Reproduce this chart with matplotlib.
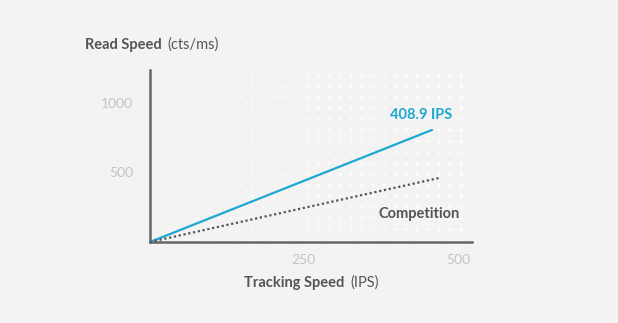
import numpy as np
import matplotlib
matplotlib.use("Agg")
import matplotlib.pyplot as plt

# data
series_names = ["408.9 IPS", "Competition"]
x_vals = [0, 458]
logitech_y = [0, 806]
comp_x = [0, 469]
comp_y = [0, 460]
x_ticks = [250, 500]
y_ticks = [500, 1000]

BG = "#f3f3f3"
BLUE = "#1ea7d1"
DARK = "#555555"
LIGHT = "#c4c4c4"
FONT = "Lato"

fig = plt.figure(figsize=(6.18, 3.23), dpi=100, facecolor=BG)
ax = fig.add_axes([150/618, 1-242/323, 322/618, 172/323])
ax.set_facecolor(BG)
ax.set_xlim(0, 523)
ax.set_ylim(0, 1237)

# decorative dot pattern
gx, gy = np.meshgrid(np.arange(0.01, 1.0, 11/322), np.arange(0.01, 1.0, 11/172))
alpha = np.clip(0.35 + 0.65*gx.ravel(), 0, 1)
cols = np.zeros((gx.size, 4)); cols[:, :3] = 1.0; cols[:, 3] = alpha
ax.scatter(gx.ravel(), gy.ravel(), s=5, c=cols, transform=ax.transAxes, linewidths=0, zorder=0)

ax.plot(x_vals, logitech_y, color=BLUE, lw=1.6, solid_capstyle="round", zorder=3)
ax.plot(comp_x, comp_y, color=DARK, lw=1.6, linestyle=(0, (1, 1.2)), zorder=3)

for s in ["top", "right"]:
    ax.spines[s].set_visible(False)
for s in ["left", "bottom"]:
    ax.spines[s].set_color("#666666")
    ax.spines[s].set_linewidth(1.8)
ax.set_xticks(x_ticks)
ax.set_yticks(y_ticks)
ax.tick_params(length=0, colors=LIGHT, labelsize=10)
ax.tick_params(axis="x", pad=9)
ax.tick_params(axis="y", pad=12)
for lab in ax.get_xticklabels() + ax.get_yticklabels():
    lab.set_fontfamily(FONT)

ax.text(440, 913, series_names[0], color=BLUE, fontsize=10.5, fontweight="bold",
        family=FONT, ha="center", va="center")
ax.text(437, 201, series_names[1], color=DARK, fontsize=10.5, fontweight="bold",
        family=FONT, ha="center", va="center")

fig.canvas.draw()
r = fig.canvas.get_renderer()

def two_part(x, y, bold, normal, ha):
    t1 = fig.text(x, y, bold, fontsize=10.5, fontweight="bold", color=DARK, family=FONT, va="center")
    t2 = fig.text(0, y, normal, fontsize=10.5, color=DARK, family=FONT, va="center")
    w1 = t1.get_window_extent(r).width
    w2 = t2.get_window_extent(r).width
    gap = 6
    total = w1 + gap + w2
    x0 = x*618 - (total/2 if ha == "center" else 0)
    t1.set_x(x0/618)
    t2.set_x((x0 + w1 + gap)/618)

two_part(85/618, 1-45/323, "Read Speed", "(cts/ms)", "left")
two_part(311/618, 1-283/323, "Tracking Speed", "(IPS)", "center")

fig.savefig("out.png", dpi=100, facecolor=BG)
